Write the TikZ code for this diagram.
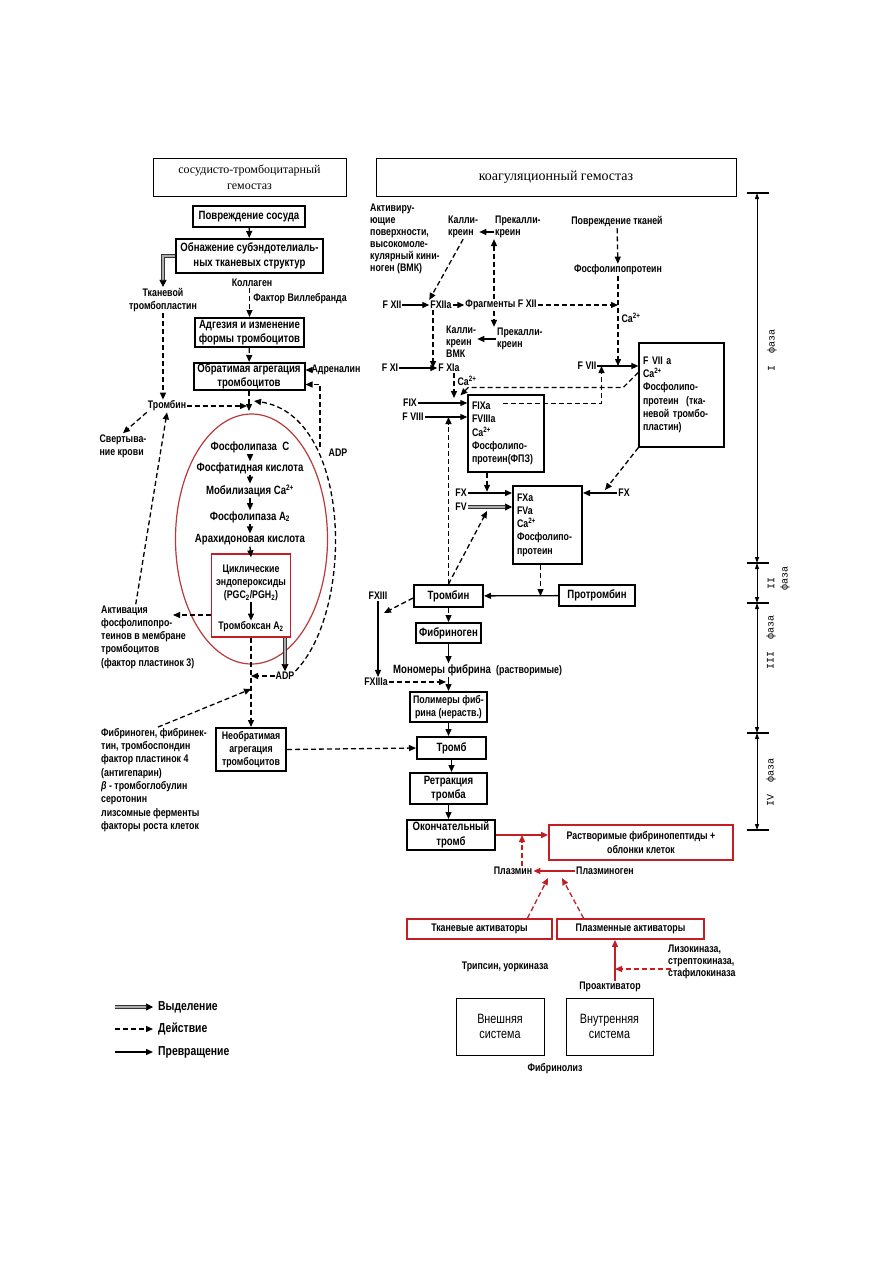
\documentclass[tikz,border=0pt]{standalone}
\usepackage{fontspec}
\setmainfont{Liberation Sans}
\newfontfamily\nar[FakeStretch=0.8]{Liberation Sans}
\newfontfamily\serf{Liberation Serif}
\newfontfamily\monof{Liberation Mono}
\usetikzlibrary{arrows.meta,positioning}
\definecolor{dred}{RGB}{196,30,36}
\definecolor{ered}{RGB}{184,58,58}
\newcommand{\ftL}{\nar\bfseries\fontsize{12}{14.5}\selectfont}
\newcommand{\ftR}{\nar\bfseries\fontsize{11}{13.3}\selectfont}
\newcommand{\ftT}{\nar\bfseries\fontsize{11}{12}\selectfont}
\newcommand{\ftG}{\nar\bfseries\fontsize{13}{15}\selectfont}
\newcommand{\ftW}{\nar\fontsize{13.5}{15}\selectfont}
\newcommand{\ftM}{\monof\fontsize{10}{12}\selectfont}

\begin{document}
\begin{tikzpicture}[x=1pt,y=-1pt,
 every node/.style={inner sep=1pt},
 box/.style={draw,line width=1.2pt,align=center,inner sep=0pt,font=\ftL},
 tbox/.style={box,line width=2pt},
 hbox/.style={draw,line width=0.8pt,align=center,inner sep=0pt},
 rbox/.style={draw=dred,line width=1.8pt,align=center,inner sep=0pt,font=\ftR},
 lbl/.style={font=\ftR,align=left},
 conv/.style={line width=1.3pt,-{Triangle[length=7pt,width=6pt]}},
 act/.style={conv,dash pattern=on 5pt off 3pt},
 sec/.style={draw=black!80,double=gray!65,double distance=1.8pt,line width=0.7pt,-{Triangle[length=7pt,width=7pt,color=black]}},
 rconv/.style={conv,draw=dred},
 ract/.style={rconv,dash pattern=on 5pt off 3pt},
 ph/.style={line width=1pt,{Triangle[length=6pt,width=4pt]}-{Triangle[length=6pt,width=4pt]}},
 phase/.style={font=\ftM,rotate=90}]
\fill[white] (0,0) rectangle (893,1263);
\useasboundingbox (0,0) rectangle (893,1263);

% headers
\node[hbox,minimum width=193pt,minimum height=38pt,font=\serf\fontsize{12}{16}\selectfont] (hL) at (249.5,177) {сосудисто-тромбоцитарный\\гемостаз};
\node[hbox,minimum width=360pt,minimum height=38pt,font=\serf\fontsize{14}{16}\selectfont] (hR) at (556,177) {коагуляционный гемостаз};

% vascular-platelet column
\node[box,minimum width=112pt,minimum height=21pt] (n1) at (249,216.5) {Повреждение сосуда};
\node[tbox,minimum width=147pt,minimum height=34pt] (n2) at (249.5,256) {Обнажение субэндотелиаль-\\ных тканевых структур};
\node[lbl,align=center] (tpl) at (163,300) {Тканевой\\тромбопластин};
\node[lbl] (kol) at (252,283) {Коллаген};
\node[lbl] (vwf) at (300,299) {Фактор Виллебранда};
\node[tbox,minimum width=109pt,minimum height=29pt] (n3) at (249.5,332.5) {Адгезия и изменение\\формы тромбоцитов};
\node[tbox,minimum width=111pt,minimum height=27pt] (n4) at (249,376.5) {Обратимая агрегация\\тромбоцитов};
\node[lbl] (adr) at (336,370) {Адреналин};
\node[lbl] (adp1) at (338,453) {ADP};
\node[lbl] (thr1) at (167,406) {Тромбин};
\node[lbl] (svk) at (123,446) {Свертыва-\\ние крови};
\coordinate (j0) at (249,411);
\coordinate (j1) at (247,406);
\coordinate (j2) at (254,401);
\coordinate (a1) at (320,447);

\draw[act] (n1) -- (n2);
\draw[sec] (n2.west) -| (tpl.north);
\draw[act] (kol.south -| n3.north) -- (n3.north);
\draw[act] (n3) -- (n4);
\draw[act] (adr.west) -- (adr.west -| n4.east);
\draw[act] (a1) |- ([yshift=-8pt]n4.east);
\draw[act] (n4.south) -- (j0);
\draw[act] (thr1.east) -- (j1);
\draw[act] (thr1.south west) -- (svk.north);
\draw[act] (tpl.south) -- (tpl.south |- thr1.north);

% platelet activation
\draw[ered,line width=1.2pt] (251.5,539) ellipse [x radius=76pt,y radius=125pt];
\node[font=\ftL] (e1) at (250,447) {Фосфолипаза\ \ C};
\node[font=\ftL] (e2) at (250,468) {Фосфатидная кислота};
\node[font=\ftL] (e3) at (250,491) {Мобилизация Ca\textsuperscript{2+}};
\node[font=\ftL] (e4) at (250,517) {Фосфолипаза A\textsubscript{2}};
\node[font=\ftL] (e5) at (250,540) {Арахидоновая кислота};
\draw[act] (e1) -- (e2);
\draw[act] (e2) -- (e3);
\draw[act] (e3) -- (e4);
\draw[act] (e4) -- (e5);
\node[draw=dred,line width=1.3pt,minimum width=79pt,minimum height=83pt,inner sep=0pt] (rb) at (251,595.5) {};
\node[lbl,align=center] (cyc) at (251,583) {Циклические\\эндопероксиды\\(PGC\textsubscript{2}/PGH\textsubscript{2})};
\node[lbl] (tbx) at (251,627) {Тромбоксан A\textsubscript{2}};
\draw[conv] (e5.south) -- ([yshift=-4pt]rb.north);
\draw[conv] (cyc) -- (tbx);

\node[lbl,anchor=west] (akt) at (100,637) {Активация\\фосфолипопро-\\теинов в мембране\\тромбоцитов\\(фактор пластинок 3)};
\coordinate (ai) at (173,615);
\draw[act] ([yshift=-19.5pt]rb.west) -- (ai);
\draw[act] ([xshift=-12pt]akt.north) -- (thr1.south);

\node[lbl] (adp2) at (285,676) {ADP};
\draw[sec] (rb.south -| adp2) -- (adp2.north);
\draw[act] (adp2.west) -- (adp2.west -| rb.south);
\draw[act] (adp2.north east) .. controls (355,610) and (352,415) .. (j2);

\node[tbox,font=\ftR,minimum width=70pt,minimum height=43pt] (n5) at (251,749.5) {Необратимая\\агрегация\\тромбоцитов};
\node[lbl,anchor=west] (fib) at (100,780) {Фибриноген, фибринек-\\тин, тромбоспондин\\фактор пластинок 4\\(антигепарин)\\\textit{β} - тромбоглобулин\\серотонин\\лизсомные ферменты\\факторы роста клеток};
\coordinate (j3) at (251,689);
\draw[act] (rb.south) -- (rb.south |- n5.north);
\draw[act] ([xshift=4pt]fib.north) -- (j3);

% legend
\node[font=\ftG,anchor=west] (lg1) at (157,1007) {Выделение};
\node[font=\ftG,anchor=west] (lg2) at (157,1029) {Действие};
\node[font=\ftG,anchor=west] (lg3) at (157,1052) {Превращение};
\draw[sec] ([xshift=-42pt]lg1.west) -- ([xshift=-4pt]lg1.west);
\draw[act] ([xshift=-42pt]lg2.west) -- ([xshift=-4pt]lg2.west);
\draw[conv] ([xshift=-42pt]lg3.west) -- ([xshift=-4pt]lg3.west);

% coagulation column
\node[font=\ftT,anchor=north west,align=left] (actv) at (369,203) {Активиру-\\ющие\\поверхности,\\высокомоле-\\кулярный кини-\\ноген (ВМК)};
\node[font=\ftT,anchor=west,align=left] (kal1) at (447,227) {Калли-\\креин};
\node[font=\ftT,anchor=west,align=left] (pre1) at (494,227) {Прекалли-\\креин};
\draw[conv] ([yshift=-5pt]pre1.west) -- ([yshift=-5pt]kal1.east);
\node[lbl] (fxii) at (392,305) {F XII};
\node[lbl] (fxiia) at (441,305) {FXIIa};
\node[lbl] (frag) at (501,305) {Фрагменты F XII};
\draw[conv] (fxii) -- (fxiia);
\draw[conv] (fxiia) -- (frag);
\draw[act] (kal1.south) -- (fxiia.north west);
\node[font=\ftT,anchor=west,align=left] (pre2) at (496,339) {Прекалли-\\креин};
\node[font=\ftT,anchor=west,align=left] (kal2) at (445,342) {Калли-\\креин\\ВМК};
\draw[conv] (pre2.west) -- (pre2.west -| kal2.east);
\coordinate (fu) at ([xshift=-7pt]frag.north);
\coordinate (fd) at ([xshift=-7pt]frag.south);
\draw[act] (fu) -- (fu |- pre1.south);
\draw[act] (fd) -- (fd |- pre2.north);

\node[lbl] (phi) at (617,222) {Повреждение тканей};
\node[lbl] (phl) at (618,270) {Фосфолипопротеин};
\node[lbl] (ca2) at (631,318) {Ca\textsuperscript{2+}};
\draw[act] (phi) -- (phl);
\draw[act] (frag.east) -- (frag.east -| phl.south);

\node[lbl] (fxi) at (390,368) {F XI};
\node[lbl] (fxia) at (449,368) {F XIa};
\node[lbl] (ca1) at (467,381) {Ca\textsuperscript{2+}};
\draw[conv] (fxi) -- (fxia);
\coordinate (xa) at ([xshift=-8pt]fxiia.south);
\draw[act] (xa) -- (xa |- fxia.west);

\node[lbl] (fix) at (410,403) {FIX};
\node[lbl] (fviii) at (413,417) {F VIII};
\node[box,font=\ftR,line width=1.5pt,minimum height=77pt,align=left,text width=68pt,inner xsep=4pt] (bix) at (506,433.5) {FIXa\\FVIIIa\\Ca\textsuperscript{2+}\\Фосфолипо-\\протеин(ФПЗ)};
\draw[conv] (fix.east) -- (fix.east -| bix.west);
\draw[conv] (fviii.east) -- (fviii.east -| bix.west);
\coordinate (xb) at ([xshift=5pt]fxia.south);
\draw[act] (xb) -- (xb |- fix.north);

\node[lbl] (fvii) at (587,366) {F VII};
\node[box,font=\ftR,minimum height=104pt,align=left,text width=77pt,inner xsep=4pt] (b7) at (681.5,395) {F VII a\\Ca\textsuperscript{2+}\\Фосфолипо-\\протеин\ \ (тка-\\невой тромбо-\\пластин)};
\draw[conv] (fvii.east) -- (fvii.east -| b7.west);
\draw[act] (phl.south) -- (phl.south |- fvii.east);
\draw[act] ([xshift=-3pt,yshift=-9pt]bix.north) -| ([xshift=4pt]fvii.east);
\draw[act] ([yshift=-30pt]b7.north west) -- ++(-15,15) -- ++(-155,0) -- ++(-8,8);

\node[lbl] (fxr) at (624,493) {FX};
\node[tbox,font=\ftR,minimum height=78pt,align=left,text width=61pt,inner xsep=4pt] (bxa) at (547.5,525) {FXa\\FVa\\Ca\textsuperscript{2+}\\Фосфолипо-\\протеин};
\coordinate (j7) at (605,490);
\draw[conv] (fxr.west) -- (fxr.west -| bxa.east);
\draw[act] (b7.south west) -- (j7);
\node[lbl] (fxl) at (461,493) {FX};
\node[lbl] (fv) at (461,507) {FV};
\draw[conv] (fxl.east) -- (fxl.east -| bxa.west);
\draw[sec] (fv.east) -- (fv.east -| bxa.west);
\draw[act] ([xshift=-19pt]bix.south) -- ++(0,19);

\node[tbox,minimum width=69pt,minimum height=22pt] (thb) at (448.5,596) {Тромбин};
\node[tbox,minimum width=76pt,minimum height=21pt] (pthb) at (597,595.5) {Протромбин};
\draw[conv] (pthb) -- (thb);
\coordinate (xc) at ([xshift=-7pt]bxa.south);
\draw[act] (xc) -- (xc |- thb.east);
\coordinate (j8) at (487,511);
\draw[act] (thb.north) -- (thb.north |- fviii.east);
\draw[act] (thb.north) -- (j8);

\node[lbl] (fxiii) at (378,596) {FXIII};
\node[lbl] (fxiiia) at (376,682) {FXIIIa};
\coordinate (j9) at (384,613);
\coordinate (j10) at (446,682);
\draw[conv] (fxiii.south) -- (fxiii.south |- fxiiia.north);
\draw[act] ([yshift=-2pt]thb.west) -- (j9);
\node[tbox,minimum width=65pt,minimum height=20pt] (fbg) at (448.5,633) {Фибриноген};
\draw[act] (thb) -- (fbg);
\node[anchor=west,font=\ftL] (mono) at (392,670) {Мономеры фибрина\ \ {\ftR(растворимые)}};
\draw[conv] (fbg.south) -- (fbg.south |- mono.north);
\draw[act] (fxiiia.east) -- (j10);
\node[tbox,font=\ftR,minimum width=77pt,minimum height=30pt] (pol) at (448.5,707) {Полимеры фиб-\\рина (нераств.)};
\draw[conv] (pol.north |- mono.south) -- (pol.north);
\node[tbox,minimum width=69pt,minimum height=22pt] (tromb) at (451.5,748) {Тромб};
\node[tbox,minimum width=77pt,minimum height=31pt] (retr) at (448.5,788.5) {Ретракция\\тромба};
\node[tbox,minimum width=88pt,minimum height=30pt] (okt) at (451,835) {Окончательный\\тромб};
\draw[act] (n5.east) -- (tromb.west);
\draw[conv] (pol.south) -- (pol.south |- tromb.north);
\draw[conv] (tromb.south) -- (tromb.south |- retr.north);
\draw[conv] (retr.south) -- (retr.south |- okt.north);

% fibrinolysis
\node[rbox,minimum width=184pt,minimum height=35pt] (rfp) at (641,842.5) {Растворимые фибринопептиды +\\облонки клеток};
\draw[rconv] (okt.east) -- (okt.east -| rfp.west);
\node[lbl] (plm) at (513,871) {Плазмин};
\node[lbl] (plg) at (605,871) {Плазминоген};
\draw[rconv] (plg) -- (plm);
\coordinate (pm) at ([xshift=9pt]plm.north);
\draw[ract] (pm) -- (pm |- okt.east);
\node[rbox,minimum width=145pt,minimum height=20pt] (tact) at (479.5,929) {Тканевые активаторы};
\node[rbox,minimum width=147pt,minimum height=20pt] (pact) at (630.5,929) {Плазменные активаторы};
\coordinate (j11) at (548,878);
\coordinate (j12) at (562,878);
\draw[ract] ([xshift=48pt]tact.north) -- (j11);
\draw[ract] ([xshift=-47pt]pact.north) -- (j12);
\node[lbl] (trip) at (505,967) {Трипсин, уоркиназа};
\node[lbl] (proa) at (610,987) {Проактиватор};
\coordinate (pv) at ([xshift=5pt]proa.north);
\draw[rconv] (pv) -- (pv |- pact.south);
\node[font=\ftT,anchor=west,align=left] (lizo) at (667,962) {Лизокиназа,\\стрептокиназа,\\стафилокиназа};
\coordinate (lz) at ([xshift=4pt,yshift=-7pt]lizo.west);
\draw[ract] (lz) -- (lz -| pv);
\node[draw,line width=0.9pt,font=\ftW,align=center,minimum width=88pt,minimum height=57pt] (vn) at (500,1026.5) {Внешняя\\система};
\node[draw,line width=0.9pt,font=\ftW,align=center,minimum width=87pt,minimum height=57pt] (vt) at (609.5,1026.5) {Внутренняя\\система};
\node[lbl] (fbl) at (555,1069) {Фибринолиз};

% phases
\foreach \y in {193,563,603,733,830} \draw[line width=1.2pt] (747,\y) -- (769,\y);
\draw[ph] (757,193) -- (757,563);
\draw[ph] (757,563) -- (757,603);
\draw[ph] (757,603) -- (757,733);
\draw[ph] (757,733) -- (757,830);
\node[phase] (ph1) at (772,350) {I\ \ фаза};
\node[phase] (ph2a) at (771,583) {II};
\node[phase] (ph2b) at (785,578) {фаза};
\node[phase] (ph3) at (771,642) {III\ \ фаза};
\node[phase] (ph4) at (771,782) {IV\ \ фаза};
\end{tikzpicture}
\end{document}
